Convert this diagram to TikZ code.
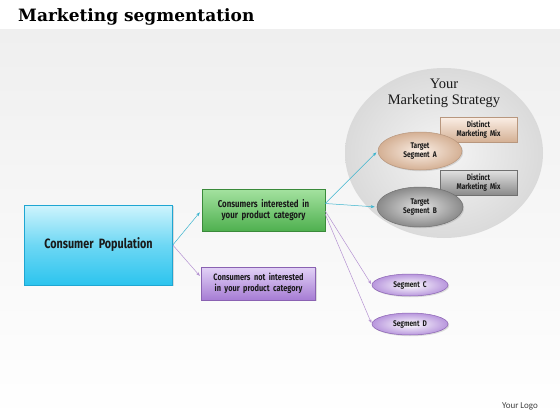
\documentclass[tikz,border=0pt]{standalone}
\usepackage{fontspec}
\usetikzlibrary{shapes.geometric,arrows.meta,shadows}
\newfontfamily\titlefont{DejaVu Serif}
\newfontfamily\agency[FakeStretch=0.8]{Fira Sans}
\newfontfamily\logofont{Carlito}
\newfontfamily\stratfont{Liberation Serif}
\definecolor{bgband}{HTML}{EFEFEF}
\definecolor{cyanout}{HTML}{2CC4EE}
\definecolor{cyanin}{HTML}{CFF4FD}
\definecolor{cyanline}{HTML}{1FA6D2}
\definecolor{greenout}{HTML}{4FB04F}
\definecolor{greenin}{HTML}{A4E2A0}
\definecolor{greenline}{HTML}{3A8A3A}
\definecolor{purpout}{HTML}{A67CD4}
\definecolor{purpin}{HTML}{E2D2F6}
\definecolor{purpline}{HTML}{8A62B2}
\definecolor{tanout}{HTML}{D4B094}
\definecolor{tanin}{HTML}{FBEFE6}
\definecolor{tanline}{HTML}{B8977E}
\definecolor{greyout}{HTML}{8A8A8A}
\definecolor{greyin}{HTML}{E2E2E2}
\definecolor{greyline}{HTML}{707070}
\definecolor{stratout}{HTML}{DADADA}
\definecolor{stratin}{HTML}{F5F5F5}
\definecolor{arrcyan}{HTML}{3BB4CE}
\definecolor{arrpurp}{HTML}{B592D2}
\definecolor{txt}{HTML}{1A1A1A}
\begin{document}
\begin{tikzpicture}[x=1pt,y=-1pt,
  boxtext/.style={font=\agency\bfseries\fontsize{8.2}{9.5}\selectfont, text=txt, align=center, inner sep=1pt},
  bigtext/.style={font=\agency\bfseries\fontsize{9.9}{11.5}\selectfont},
  midtext/.style={font=\agency\bfseries\fontsize{9.2}{10.8}\selectfont},
  shadowed/.style={drop shadow={shadow xshift=1.2pt, shadow yshift=-1.2pt, opacity=0.25}},
  cbox/.style={rectangle, draw=cyanline, line width=0.6pt, top color=cyanin, bottom color=cyanout, middle color=cyanout!60!cyanin, shadowed},
  gbox/.style={rectangle, draw=greenline, line width=0.6pt, top color=greenin, bottom color=greenout, shadowed, boxtext, bigtext},
  pbox/.style={rectangle, draw=purpline, line width=0.6pt, top color=purpin, bottom color=purpout, shadowed, boxtext, midtext},
  tanbox/.style={rectangle, draw=tanline, line width=0.5pt, top color=tanin, bottom color=tanout, shadowed, boxtext},
  greybox/.style={rectangle, draw=greyline, line width=0.5pt, top color=greyin, bottom color=greyout, shadowed, boxtext},
  tanell/.style={ellipse, draw=tanline, line width=0.5pt, inner color=tanin, outer color=tanout, shadowed, boxtext},
  greyell/.style={ellipse, draw=greyline, line width=0.5pt, inner color=greyin, outer color=greyout, shadowed, boxtext},
  purpell/.style={ellipse, draw=purpline, line width=0.5pt, inner color=white, outer color=purpout!80, shadowed, boxtext},
  carrow/.style={draw=arrcyan, line width=0.5pt, -{Stealth[length=4pt,width=3pt]}},
  parrow/.style={draw=arrpurp, line width=0.5pt, -{Stealth[length=4pt,width=3pt]}}
]
\useasboundingbox (0,0) rectangle (560,420);
\fill[white] (0,0) rectangle (560,420);
\shade[top color=bgband, bottom color=white] (0,30) rectangle (560,420);
\node[anchor=west, font=\titlefont\bfseries\fontsize{17}{19}\selectfont, text=black, inner sep=0pt] (title) at (18,17) {Marketing segmentation};

% strategy circle
\node[ellipse, draw=none, inner color=stratin, outer color=stratout, minimum width=198pt, minimum height=170pt] (strat) at (444,153) {};
\node[font=\stratfont\fontsize{14.5}{16}\selectfont, text=txt, inner sep=0pt] (your) at (444,84) {Your};
\node[font=\stratfont\fontsize{14.5}{16}\selectfont, text=txt, inner sep=0pt] (mstrat) at (444,101) {Marketing Strategy};

% marketing mixes
\node[tanbox, minimum width=77pt, minimum height=25pt] (mixA) at (478.5,129.5) {Distinct\\Marketing\ \ Mix};
\node[greybox, minimum width=77pt, minimum height=25pt] (mixB) at (478.5,182.5) {Distinct\\Marketing\ \ Mix};
\node[tanell, minimum width=84pt, minimum height=38pt] (segA) at (420,151) {Target\\Segment\ \ A};
\node[greyell, minimum width=86pt, minimum height=40pt] (segB) at (420,207) {Target\\Segment\ \ B};

% segments C D
\node[purpell, minimum width=76pt, minimum height=22pt] (segC) at (410,285) {Segment\ \ C};
\node[purpell, minimum width=76pt, minimum height=22pt] (segD) at (410,324) {Segment\ \ D};

% main boxes
\node[cbox, minimum width=148pt, minimum height=80pt, font=\agency\bfseries\fontsize{13.5}{16}\selectfont, text=txt] (pop) at (98.5,245) {Consumer\ \ Population};
\node[gbox, minimum width=123pt, minimum height=42pt] (int) at (263.5,210) {Consumers\ \ interested\ \ in\\your\ \ product\ \ category};
\node[pbox, minimum width=114pt, minimum height=33pt] (notint) at (258.5,283.5) {Consumers\ \ not\ \ interested\\in\ \ your\ \ product\ \ category};

% connectors
\draw[carrow, shorten >=3pt] (pop.east) -- (int.west);
\draw[parrow, shorten >=2pt] (pop.east) -- (notint.174);
\draw[carrow, shorten >=2pt] (int.6) -- (segA.west);
\draw[carrow, shorten >=2pt] (int.6) -- (segB.west);
\draw[parrow, shorten >=1pt] (int.-1) -- (segC.west);
\draw[parrow, shorten >=1pt] (int.-4) -- (segD.west);

\node[font=\logofont\fontsize{9}{11}\selectfont, text=black!75, anchor=center, inner sep=0pt] (logo) at (520,406) {Your Logo};
\end{tikzpicture}
\end{document}
